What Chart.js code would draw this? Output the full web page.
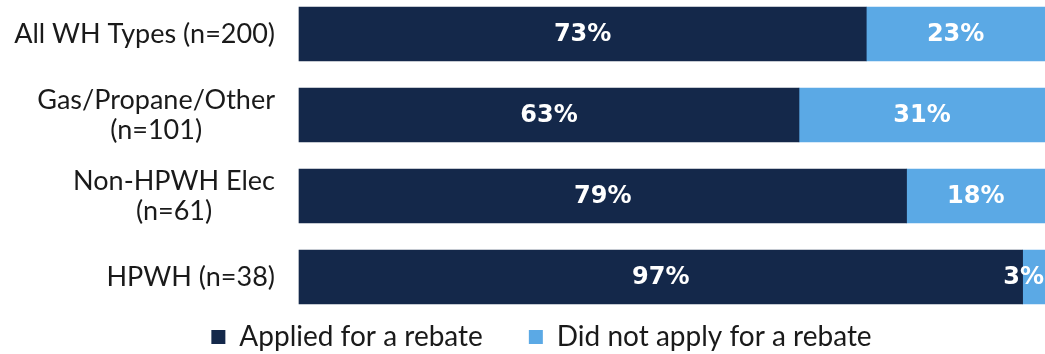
<!DOCTYPE html>
<html>
<head>
<meta charset="utf-8">
<script src="https://cdn.jsdelivr.net/npm/chart.js@4.4.0/dist/chart.umd.min.js"></script>
<style>
html, body { margin: 0; padding: 0; background: #fff; overflow: hidden; }
#wrap { width: 1045px; height: 354px; position: relative; }
</style>
</head>
<body>
<div id="wrap"><canvas id="rebateChart"></canvas></div>
<script>
// DATA
const categories = [['All WH Types (n=200)'], ['Gas/Propane/Other', '(n=101)'], ['Non-HPWH Elec', '(n=61)'], ['HPWH (n=38)']];
const applied = [73, 63, 79, 97];
const notApplied = [23, 31, 18, 3];
const seriesNames = ['Applied for a rebate', 'Did not apply for a rebate'];
const colors = ['#14284a', '#5ba9e5'];

// each bar is drawn full width (share of the two answers)
const share = (arr) => arr.map((v, i) => v / (applied[i] + notApplied[i]) * 100);

const FONT = 'Lato';

// category labels, block right aligned, lines centered
const yLabels = {
    id: 'yLabels',
    afterDraw(chart) {
        const ctx = chart.ctx;
        const y = chart.scales.y;
        ctx.save();
        ctx.font = '27px ' + FONT;
        ctx.fillStyle = '#1a1a1a';
        ctx.textAlign = 'center';
        ctx.textBaseline = 'middle';
        categories.forEach((lines, i) => {
            const w = Math.max(...lines.map(l => ctx.measureText(l).width));
            const cx = chart.chartArea.left - 24 - w / 2;
            const cy = y.getPixelForValue(i);
            lines.forEach((l, j) => ctx.fillText(l, cx, cy + (j - (lines.length - 1) / 2) * 30));
        });
        ctx.restore();
    }
};

// percent labels inside the bars
const barLabels = {
    id: 'barLabels',
    afterDatasetsDraw(chart) {
        const ctx = chart.ctx;
        const raw = [applied, notApplied];
        ctx.save();
        ctx.font = 'bold 24px "DejaVu Sans"';
        ctx.fillStyle = '#ffffff';
        ctx.textAlign = 'center';
        ctx.textBaseline = 'middle';
        chart.data.datasets.forEach((ds, d) => {
            chart.getDatasetMeta(d).data.forEach((bar, i) => {
                const txt = raw[d][i] + '%';
                const w = ctx.measureText(txt).width;
                let x = (bar.x + bar.base) / 2;
                if (x + w / 2 > chart.width - 1) x = chart.width - 1 - w / 2;
                ctx.fillText(txt, x, bar.y + 1);
            });
        });
        ctx.restore();
    }
};

new Chart(document.getElementById('rebateChart'), {
    type: 'bar',
    data: {
        labels: categories.map(l => l.join(' ')),
        datasets: [
            { label: seriesNames[0], data: share(applied), backgroundColor: colors[0] },
            { label: seriesNames[1], data: share(notApplied), backgroundColor: colors[1] }
        ]
    },
    options: {
        indexAxis: 'y',
        responsive: true,
        maintainAspectRatio: false,
        animation: false,
        layout: { padding: { left: 38, top: 34, right: 0, bottom: -7 } },
        datasets: { bar: { barThickness: 54, borderWidth: 0, clip: false } },
        scales: {
            x: { stacked: true, min: 0, max: 100, display: false },
            y: {
                stacked: true,
                offset: false,
                grid: { display: false },
                border: { display: false },
                ticks: { display: false },
                afterFit(scale) { scale.width = 261; }
            }
        },
        plugins: {
            tooltip: { enabled: false },
            legend: {
                position: 'bottom',
                labels: {
                    boxWidth: 14,
                    boxHeight: 14,
                    padding: 46,
                    color: '#1a1a1a',
                    font: { family: FONT, size: 28 }
                }
            }
        }
    },
    plugins: [yLabels, barLabels]
});
</script>
</body>
</html>
